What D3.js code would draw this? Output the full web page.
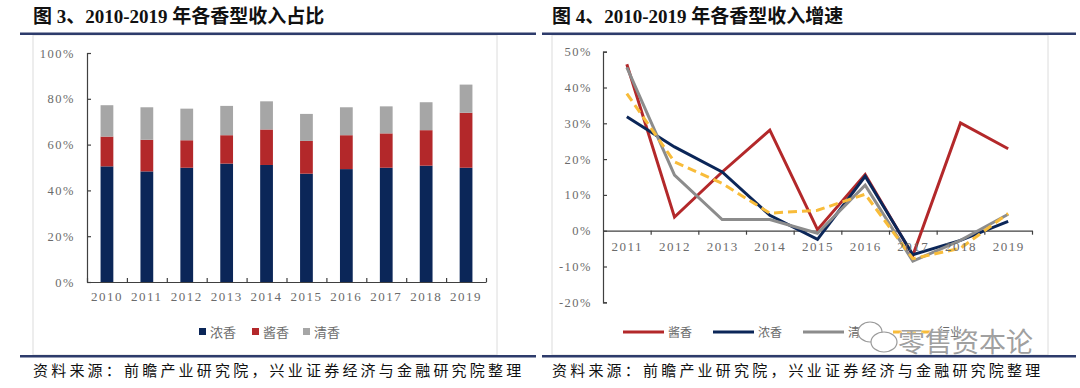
<!DOCTYPE html>
<html>
<head>
<meta charset="utf-8">
<script src="https://cdn.jsdelivr.net/npm/d3@7"></script>
<style>
  body { margin: 0; background: #fff; }
  .tick text { font-family: "Liberation Serif", serif; fill: #6b6b6b; letter-spacing: 1.5px; }
  .axis path, .axis line { stroke: #404040; stroke-width: 1.2; }
</style>
</head>
<body>
<svg id="chart" width="1080" height="388"></svg>
<script>
// left chart: share of revenue by flavour type
const years = ["2010", "2011", "2012", "2013", "2014", "2015", "2016", "2017", "2018", "2019"];
const nongShare = [50.5, 48.3, 49.9, 51.7, 51.1, 47.3, 49.3, 49.9, 50.8, 49.9];
const jiangShare = [13.0, 13.8, 12.0, 12.4, 15.5, 14.3, 14.8, 15.0, 15.5, 24.0];
const qingShare = [13.7, 14.2, 13.8, 12.8, 12.3, 11.8, 12.2, 11.8, 12.2, 12.3];
const shareTicks = [0, 20, 40, 60, 80, 100];

// right chart: revenue growth
const growthYears = ["2011", "2012", "2013", "2014", "2015", "2016", "2017", "2018", "2019"];
const jiangGrowth = [46.5, 3.8, 16.4, 28.1, 0.3, 15.7, -6.9, 30.1, 22.9];
const nongGrowth = [31.8, 23.4, 16.4, 4.3, -2.4, 15.2, -6.7, -2.7, 2.6];
const qingGrowth = [45.6, 15.5, 3.1, 3.1, -0.7, 12.7, -8.5, -2.7, 4.6];
const totalGrowth = [38.3, 19.2, 13.2, 4.9, 5.7, 10.2, -7.8, -4.9, 4.8];
const growthTicks = [-20, -10, 0, 10, 20, 30, 40, 50];

const NAVY = "#0b2658", RED = "#b3282a", GRAY = "#a6a6a6", LGRAY = "#8c8c8c", GOLD = "#f8bc3a";
const svg = d3.select("#chart");
const cjk = "'Noto Sans CJK SC', sans-serif";
const titleFont = "'Liberation Serif', 'Noto Sans CJK SC', serif";

// ---- frames, titles, rules, sources ----
function panel(x0, x1, boxL, boxR, title) {
    svg.append("text").attr("x", boxL).attr("y", 23)
        .attr("font-family", titleFont).attr("font-weight", "bold")
        .attr("font-size", 19).attr("fill", "#111").text(title);
    svg.append("rect").attr("x", boxL).attr("y", 35).attr("width", boxR - boxL).attr("height", 320)
        .attr("fill", "none").attr("stroke", "#dcdcdc").attr("stroke-width", 1);
    svg.append("rect").attr("x", x0).attr("y", 32.5).attr("width", x1 - x0).attr("height", 2.5).attr("fill", "#2d3b6b");
    svg.append("rect").attr("x", x0).attr("y", 355).attr("width", x1 - x0).attr("height", 2.5).attr("fill", "#2d3b6b");
    svg.append("text").attr("x", boxL).attr("y", 376)
        .attr("font-family", cjk).attr("font-size", 15).attr("fill", "#111")
        .attr("letter-spacing", 3.2)
        .text("资料来源：前瞻产业研究院，兴业证券经济与金融研究院整理");
}
panel(20, 536, 33, 497, "图 3、2010-2019 年各香型收入占比");
panel(542, 1076, 552, 1048, "图 4、2010-2019 年各香型收入增速");

// ---- left: stacked bars ----
const keys = ["浓香", "酱香", "清香"];
const colors = { "浓香": NAVY, "酱香": RED, "清香": GRAY };
const rows = years.map((y, i) => ({ year: y, "浓香": nongShare[i], "酱香": jiangShare[i], "清香": qingShare[i] }));
const series = d3.stack().keys(keys)(rows);

const x1 = d3.scaleBand().domain(years).range([87, 486]).paddingInner(0.68).paddingOuter(0.34);
const y1 = d3.scaleLinear().domain([0, 100]).range([282, 53]);

const gL = svg.append("g");
gL.selectAll("g.layer").data(series).enter().append("g")
    .attr("fill", d => colors[d.key])
    .selectAll("rect").data(d => d).enter().append("rect")
    .attr("x", d => x1(d.data.year))
    .attr("y", d => y1(d[1]))
    .attr("height", d => y1(d[0]) - y1(d[1]))
    .attr("width", x1.bandwidth());

gL.append("g").attr("class", "axis").attr("transform", "translate(87,0)")
    .call(d3.axisLeft(y1).tickValues(shareTicks).tickSize(-4).tickPadding(12).tickFormat(d => d + "%"))
    .call(g => g.selectAll("text").attr("font-size", 12.5));

const edge1 = d3.scaleLinear().domain([0, years.length]).range([87, 486]);
gL.append("g").attr("class", "axis").attr("transform", "translate(0,282)")
    .call(d3.axisBottom(edge1).tickValues(d3.range(years.length + 1)).tickSize(-4).tickSizeOuter(0).tickFormat(""));
gL.append("g").attr("transform", "translate(0,282)")
    .call(d3.axisBottom(x1).tickSize(0).tickPadding(10))
    .call(g => g.select(".domain").remove())
    .call(g => g.selectAll("text").attr("font-size", 13).attr("letter-spacing", 2));

// legend left
const legL = svg.append("g").attr("transform", "translate(199,332)");
const legPos = [0, 53, 104];
keys.forEach((k, i) => {
    const g = legL.append("g").attr("transform", `translate(${legPos[i]},0)`);
    g.append("rect").attr("x", 0).attr("y", -4).attr("width", 7).attr("height", 7).attr("fill", colors[k]);
    g.append("text").attr("x", 11).attr("y", 4.5).attr("font-family", cjk).attr("font-size", 13)
        .attr("fill", "#6b6b6b").text(k);
});

// ---- right: growth lines ----
const x2 = d3.scalePoint().domain(growthYears).range([603, 1032]).padding(0.5);
const y2 = d3.scaleLinear().domain([-20, 50]).range([302.3, 51.7]);
const gR = svg.append("g");

gR.append("g").attr("class", "axis").attr("transform", "translate(603,0)")
    .call(d3.axisLeft(y2).tickValues(growthTicks).tickSize(-4).tickPadding(11).tickFormat(d => d + "%"))
    .call(g => g.selectAll("text").attr("font-size", 12.5));

const edge2 = d3.scaleLinear().domain([0, growthYears.length]).range([603, 1032]);
gR.append("g").attr("class", "axis").attr("transform", `translate(0,${y2(0)})`)
    .call(d3.axisBottom(edge2).tickValues(d3.range(1, growthYears.length + 1)).tickSize(4).tickSizeOuter(0).tickFormat(""));

const lines = [
    { name: "酱香", values: jiangGrowth, color: RED, dash: null },
    { name: "浓香", values: nongGrowth, color: NAVY, dash: null },
    { name: "清香", values: qingGrowth, color: LGRAY, dash: null },
    { name: "行业", values: totalGrowth, color: GOLD, dash: "9,5" }
];
const lineGen = d3.line().x((d, i) => x2(growthYears[i])).y(d => y2(d));
gR.selectAll("path.series").data(lines).enter().append("path")
    .attr("class", "series")
    .attr("d", d => lineGen(d.values))
    .attr("fill", "none")
    .attr("stroke", d => d.color)
    .attr("stroke-width", 3)
    .attr("stroke-dasharray", d => d.dash);

gR.append("g").attr("transform", `translate(0,${y2(0)})`)
    .call(d3.axisBottom(x2).tickSize(0).tickPadding(11))
    .call(g => g.select(".domain").remove())
    .call(g => g.selectAll("text").attr("font-size", 13).attr("letter-spacing", 2));

// legend right
const legR = svg.append("g").attr("transform", "translate(623,332)");
const legRPos = [0, 90, 180, 270];
lines.forEach((l, i) => {
    const g = legR.append("g").attr("transform", `translate(${legRPos[i]},0)`);
    g.append("line").attr("x1", 0).attr("x2", 41).attr("y1", 0).attr("y2", 0)
        .attr("stroke", l.color).attr("stroke-width", 3).attr("stroke-dasharray", l.dash);
    g.append("text").attr("x", 45).attr("y", 4.5).attr("font-family", cjk).attr("font-size", 12)
        .attr("fill", "#6b6b6b").text(l.name);
});

// watermark over the legend
const wm = svg.append("g").attr("transform", "translate(862,330)");
wm.append("ellipse").attr("cx", 8).attr("cy", 2).attr("rx", 12).attr("ry", 10)
    .attr("fill", "#fff").attr("stroke", "#9a9a9a").attr("stroke-width", 1.2);
wm.append("ellipse").attr("cx", 22).attr("cy", 12).attr("rx", 13).attr("ry", 10)
    .attr("fill", "#fff").attr("stroke", "#9a9a9a").attr("stroke-width", 1.2);
wm.append("text").attr("x", 36).attr("y", 22).attr("font-family", cjk).attr("font-size", 27)
    .attr("fill", "#a0a0a0").attr("stroke", "#fff").attr("stroke-width", 0.6)
    .attr("paint-order", "stroke").text("零售资本论");
</script>
</body>
</html>
